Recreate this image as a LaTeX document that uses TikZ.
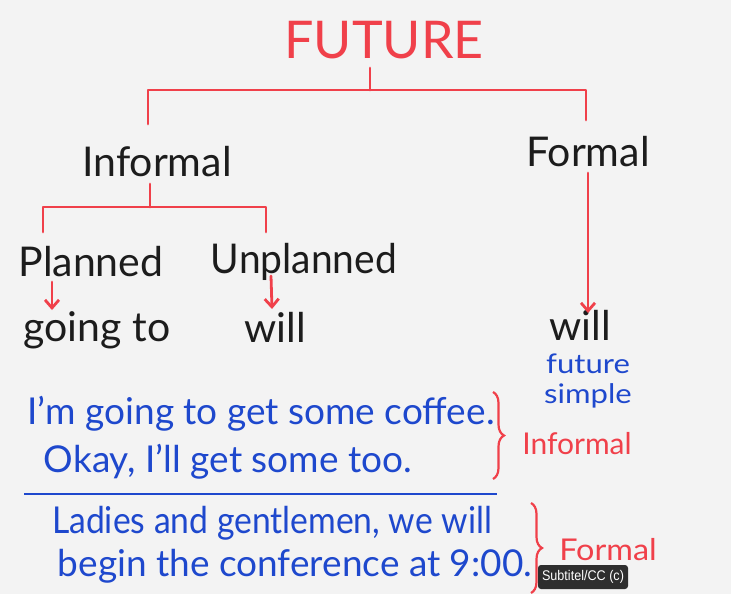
\documentclass[tikz,border=0pt]{standalone}
\usepackage{fontspec}
\setmainfont{Lato}
\setsansfont{Liberation Sans}
\usetikzlibrary{decorations.pathreplacing,arrows.meta}
\definecolor{mred}{RGB}{240,64,74}
\definecolor{mblue}{RGB}{30,72,205}
\definecolor{mink}{RGB}{28,28,28}
\definecolor{board}{RGB}{243,243,243}
\begin{document}
\begin{tikzpicture}[x=1pt,y=-1pt,
  redline/.style={draw=mred, line width=2.8pt, line cap=round, line join=round},
  redarrow/.style={redline, -{Straight Barb[length=8pt,width=14pt]}},
  heading/.style={text=mred, inner sep=0pt, font=\fontsize{52}{52}\selectfont},
  ink/.style={text=mink, inner sep=0pt, font=\fontsize{41}{41}\selectfont},
  bluetxt/.style={text=mblue, inner sep=0pt, font=\fontsize{37}{37}\selectfont},
  bluesmall/.style={text=mblue, inner sep=0pt, font=\fontsize{27}{30}\selectfont},
  redlabel/.style={text=mred, inner sep=0pt, font=\fontsize{30}{30}\selectfont},
  bluerule/.style={draw=mblue, line width=1.8pt},
  bracestyle/.style={draw=mred, line width=2.2pt, decorate, decoration={brace, amplitude=11pt}}]
\fill[board] (0,0) rectangle (731,594);
\useasboundingbox (0,0) rectangle (731,594);
% tree
\node[heading] (future) at (384,40) {FUTURE};
\node[ink] (informal) at (157,162) {Informal};
\node[ink] (formal) at (588,152) {Formal};
\node[ink] (planned) at (91,262) {Planned};
\node[ink, xscale=0.95] (unplanned) at (304,262) {Unplanned};
\node[ink] (goingto) at (97,330) {going to};
\node[ink] (will1) at (275,327) {will};
\node[ink, anchor=base, text depth=0pt] (will2) at (580,340) {will};
\node[bluesmall, align=center, xscale=1.15] (futuresimple) at (588,381) {future\\simple};
% connectors
\coordinate (t0) at (370,68);
\coordinate (t1) at (370,90);
\coordinate (tl) at (148,124);
\coordinate (tr) at (586,120);
\draw[redline] (t0) -- (t1);
\draw[redline] (tl) |- (t1) -| (tr);
\coordinate (i0) at (150,184);
\coordinate (i1) at (150,207);
\coordinate (il) at (43,232);
\coordinate (ir) at (266,232);
\draw[redline] (i0) -- (i1);
\draw[redline] (il) |- (i1) -| (ir);
\coordinate (pa) at (52,282);
\coordinate (pb) at (52,310);
\draw[redarrow] (pa) -- (pb);
\coordinate (ua) at (271,276);
\coordinate (ub) at (272,309);
\draw[redarrow] (ua) -- (ub);
\coordinate (fa) at (588,173);
\coordinate (fb) at (588,313);
\draw[redarrow] (fa) -- (fb);
% examples
\node[bluetxt] (s1) at (261,414) {I’m going to get some coffee.};
\node[bluetxt] (s2) at (228,462) {Okay, I’ll get some too.};
\coordinate (ra) at (24,494);
\coordinate (rb) at (497,494);
\draw[bluerule] (ra) -- (rb);
\node[bluetxt, xscale=0.91] (s3) at (272,523) {Ladies and gentlemen, we will};
\node[bluetxt] (s4) at (295,566) {begin the conference at 9:00.};
\coordinate (b1a) at (493,392);
\coordinate (b1b) at (493,479);
\draw[bracestyle] (b1a) -- (b1b);
\node[redlabel] (inf2) at (577,444) {Informal};
\coordinate (b2a) at (531,503);
\coordinate (b2b) at (531,593);
\draw[bracestyle] (b2a) -- (b2b);
\node[redlabel, xscale=1.08] (form2) at (608,550) {Formal};
% overlay
\node[fill=black!82, rounded corners=3pt, text=white, minimum width=100pt, minimum height=24pt, inner sep=1pt, xscale=0.9, font=\sffamily\fontsize{14}{14}\selectfont] (cc) at (583,577) {Subtitel/CC (c)};
\end{tikzpicture}
\end{document}
